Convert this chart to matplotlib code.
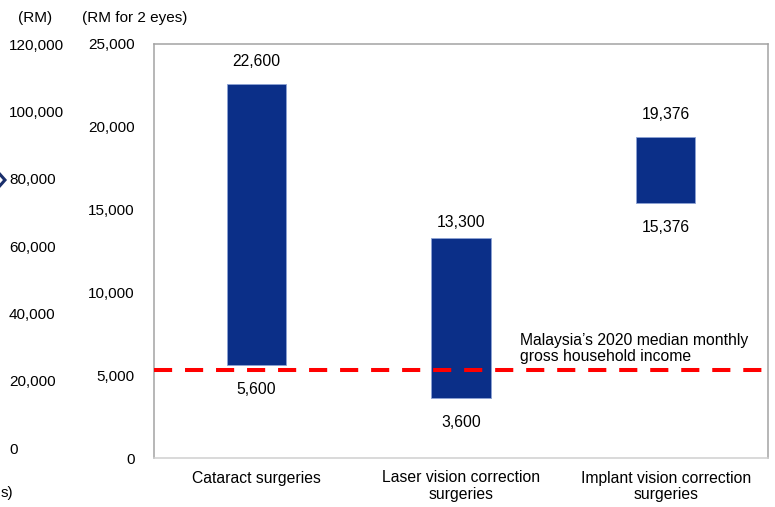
import matplotlib
matplotlib.use("Agg")
import matplotlib.pyplot as plt
from matplotlib.lines import Line2D

plt.rcParams['font.family'] = ['Liberation Sans', 'DejaVu Sans']

# Price ranges (RM for 2 eyes)
categories = ["Cataract surgeries",
              "Laser vision correction\nsurgeries",
              "Implant vision correction\nsurgeries"]
low_values = [5600, 3600, 15376]
high_values = [22600, 13300, 19376]
median_income = 5300
income_label = "Malaysia\u2019s 2020 median monthly\ngross household income"

right_ticks = [0, 5000, 10000, 15000, 20000, 25000]
left_ticks = [0, 20000, 40000, 60000, 80000, 100000, 120000]

FS = 11.3
TFS = 11.0

W, H = 775, 507
fig = plt.figure(figsize=(W / 100, H / 100), dpi=100)

ax_left, ax_bottom, ax_right, ax_top = 154, 458, 768, 44
ax = fig.add_axes([ax_left / W, 1 - ax_bottom / H,
                   (ax_right - ax_left) / W, (ax_bottom - ax_top) / H])

bar_color = "#0b2f88"
x = list(range(len(categories)))
heights = [h - l for h, l in zip(high_values, low_values)]
ax.bar(x, heights, bottom=low_values, width=0.29, color=bar_color,
       edgecolor="#8da3d4", linewidth=0.6, zorder=2)

top_offsets = [16, 11, 16.5]
for xi, lo, hi, off in zip(x, low_values, high_values, top_offsets):
    ax.annotate(f"{hi:,}", (xi, hi), xytext=(0, off), textcoords="offset points",
                ha="center", va="center", fontsize=FS)
    ax.annotate(f"{lo:,}", (xi, lo), xytext=(0, -17.5), textcoords="offset points",
                ha="center", va="center", fontsize=FS)

ax.axhline(median_income, color="#ff0000", lw=2.9, dashes=(4.5, 3.2), zorder=3)
ax.text(1.29, median_income + 1290, income_label, ha="left", va="center",
        fontsize=FS, linespacing=1.1)

ax.set_xlim(-0.5, 2.5)
ax.set_ylim(0, 25000)
ax.set_yticks(right_ticks)
ax.set_yticklabels([f"{v:,}" for v in right_ticks], fontsize=TFS)
ax.set_xticks(x)
ax.set_xticklabels(categories, fontsize=FS, linespacing=1.1, va="top")
ax.tick_params(axis="y", length=0, pad=14)
ax.tick_params(axis="x", length=0, pad=9)
for side in ["left", "top", "right"]:
    ax.spines[side].set_color("#a3a3a3")
    ax.spines[side].set_linewidth(1.1)
ax.spines["bottom"].set_color("#cfcfcf")
ax.spines["bottom"].set_linewidth(1.1)

# Secondary RM scale on the far left
ax2 = fig.add_axes([9 / W, 1 - ax_bottom / H, 0.0001, (ax_bottom - ax_top) / H])
ax2.set_ylim(-2970, 120000)
ax2.set_xticks([])
ax2.yaxis.tick_right()
ax2.set_yticks(left_ticks)
ax2.set_yticklabels([f"{v:,}" for v in left_ticks], fontsize=TFS)
ax2.tick_params(axis="y", length=0, pad=0)
for s in ax2.spines.values():
    s.set_visible(False)
ax2.patch.set_visible(False)

fig.text(18 / W, 1 - 18 / H, "(RM)", ha="left", va="center", fontsize=TFS)
fig.text(82 / W, 1 - 18 / H, "(RM for 2 eyes)", ha="left", va="center", fontsize=TFS)
fig.text(0.5 / W, 1 - 493 / H, "s)", ha="left", va="center", fontsize=TFS)

# Chevron marker at the left edge
fig.add_artist(Line2D([-3 / W, 5 / W, -3 / W],
                      [1 - 171 / H, 1 - 180 / H, 1 - 189 / H],
                      transform=fig.transFigure, color="#1a2f6b", lw=2.2,
                      solid_joinstyle="miter"))

fig.savefig("out.png", dpi=100)
